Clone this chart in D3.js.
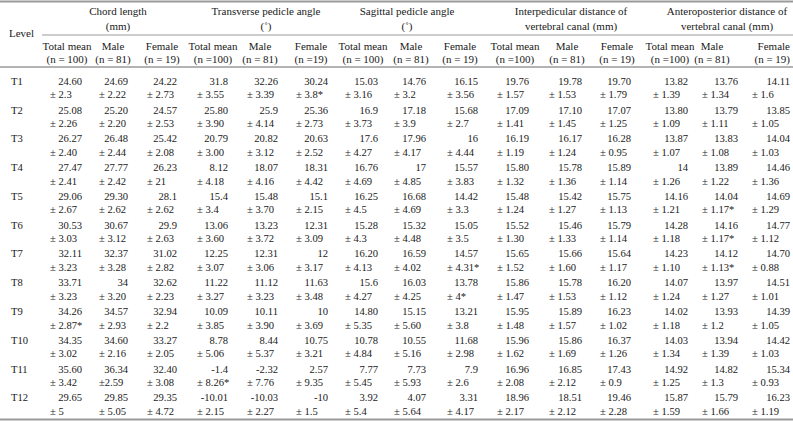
<!DOCTYPE html>
<html><head><meta charset="utf-8">
<script src="https://cdn.jsdelivr.net/npm/d3@7"></script>
<style>
html,body{margin:0;padding:0;background:#fff;}
svg text{font-family:"Liberation Serif","DejaVu Serif",serif;fill:#1a1a1a;}
</style></head>
<body><svg id="c" width="793" height="421"></svg>
<script>
// ---- data ----
const levels = ["T1","T2","T3","T4","T5","T6","T7","T8","T9","T10","T11","T12"];
const groups = [["Chord length","(mm)"],["Transverse pedicle angle","(˚)"],["Sagittal pedicle angle","(˚)"],
  ["Interpedicular distance of","vertebral canal (mm)"],["Anteroposterior distance of","vertebral canal (mm)"]];
const subHeads = [["Total mean","(n = 100)"],["Male","(n = 81)"],["Female","(n = 19)"],
  ["Total mean","(n =100)"],["Male","(n = 81)"],["Female","(n =19)"],
  ["Total mean","(n = 100)"],["Male","(n = 81)"],["Female","(n = 19)"],
  ["Total mean","(n =100)"],["Male","(n = 81)"],["Female","(n = 19)"],
  ["Total mean","(n =100)"],["Male","(n = 81)"],["Female","(n = 19)"]];
// mean values [total, male, female] per level
const chordMean = [["24.60","24.69","24.22"],["25.08","25.20","24.57"],["26.27","26.48","25.42"],["27.47","27.77","26.23"],["29.06","29.30","28.1"],["30.53","30.67","29.9"],["32.11","32.37","31.02"],["33.71","34","32.62"],["34.26","34.57","32.94"],["34.35","34.60","33.27"],["35.60","36.34","32.40"],["29.65","29.85","29.35"]];
const chordSD = [["± 2.3","± 2.22","± 2.73"],["± 2.26","± 2.20","± 2.53"],["± 2.40","± 2.44","± 2.08"],["± 2.41","± 2.42","± 21"],["± 2.67","± 2.62","± 2.62"],["± 3.03","± 3.12","± 2.63"],["± 3.23","± 3.28","± 2.82"],["± 3.23","± 3.20","± 2.23"],["± 2.87*","± 2.93","± 2.2"],["± 3.02","± 2.16","± 2.05"],["± 3.42","±2.59","± 3.08"],["± 5","± 5.05","± 4.72"]];
const transMean = [["31.8","32.26","30.24"],["25.80","25.9","25.36"],["20.79","20.82","20.63"],["8.12","18.07","18.31"],["15.4","15.48","15.1"],["13.06","13.23","12.31"],["12.25","12.31","12"],["11.22","11.12","11.63"],["10.09","10.11","10"],["8.78","8.44","10.75"],["-1.4","-2.32","2.57"],["-10.01","-10.03","-10"]];
const transSD = [["± 3.55","± 3.39","± 3.8*"],["± 3.90","± 4.14","± 2.73"],["± 3.00","± 3.12","± 2.52"],["± 4.18","± 4.16","± 4.42"],["± 3.4","± 3.70","± 2.15"],["± 3.60","± 3.72","± 3.09"],["± 3.07","± 3.06","± 3.17"],["± 3.27","± 3.23","± 3.48"],["± 3.85","± 3.90","± 3.69"],["± 5.06","± 5.37","± 3.21"],["± 8.26*","± 7.76","± 9.35"],["± 2.15","± 2.27","± 1.5"]];
const sagMean = [["15.03","14.76","16.15"],["16.9","17.18","15.68"],["17.6","17.96","16"],["16.76","17","15.57"],["16.25","16.68","14.42"],["15.28","15.32","15.05"],["16.20","16.59","14.57"],["15.6","16.03","13.78"],["14.80","15.15","13.21"],["10.78","10.55","11.68"],["7.77","7.73","7.9"],["3.92","4.07","3.31"]];
const sagSD = [["± 3.16","± 3.2","± 3.56"],["± 3.73","± 3.9","± 2.7"],["± 4.27","± 4.17","± 4.44"],["± 4.69","± 4.85","± 3.83"],["± 4.5","± 4.69","± 3.3"],["± 4.3","± 4.48","± 3.5"],["± 4.13","± 4.02","± 4.31*"],["± 4.27","± 4.25","± 4*"],["± 5.35","± 5.60","± 3.8"],["± 4.84","± 5.16","± 2.98"],["± 5.45","± 5.93","± 2.6"],["± 5.4","± 5.64","± 4.17"]];
const interMean = [["19.76","19.78","19.70"],["17.09","17.10","17.07"],["16.19","16.17","16.28"],["15.80","15.78","15.89"],["15.48","15.42","15.75"],["15.52","15.46","15.79"],["15.65","15.66","15.64"],["15.86","15.78","16.20"],["15.95","15.89","16.23"],["15.96","15.86","16.37"],["16.96","16.85","17.43"],["18.96","18.51","19.46"]];
const interSD = [["± 1.57","± 1.53","± 1.79"],["± 1.41","± 1.45","± 1.25"],["± 1.19","± 1.24","± 0.95"],["± 1.32","± 1.36","± 1.14"],["± 1.24","± 1.27","± 1.13"],["± 1.30","± 1.33","± 1.14"],["± 1.52","± 1.60","± 1.17"],["± 1.47","± 1.53","± 1.12"],["± 1.48","± 1.57","± 1.02"],["± 1.62","± 1.69","± 1.26"],["± 2.08","± 2.12","± 0.9"],["± 2.17","± 2.12","± 2.28"]];
const antMean = [["13.82","13.76","14.11"],["13.80","13.79","13.85"],["13.87","13.83","14.04"],["14","13.89","14.46"],["14.16","14.04","14.69"],["14.28","14.16","14.77"],["14.23","14.12","14.70"],["14.07","13.97","14.51"],["14.02","13.93","14.39"],["14.03","13.94","14.42"],["14.92","14.82","15.34"],["15.87","15.79","16.23"]];
const antSD = [["± 1.39","± 1.34","± 1.6"],["± 1.09","± 1.11","± 1.05"],["± 1.07","± 1.08","± 1.03"],["± 1.26","± 1.22","± 1.36"],["± 1.21","± 1.17*","± 1.29"],["± 1.18","± 1.17*","± 1.12"],["± 1.10","± 1.13*","± 0.88"],["± 1.24","± 1.27","± 1.01"],["± 1.18","± 1.2","± 1.05"],["± 1.34","± 1.39","± 1.03"],["± 1.25","± 1.3","± 0.93"],["± 1.59","± 1.66","± 1.19"]];

// ---- layout ----
const W = 793, H = 421;
const svg = d3.select("#c");
svg.append("rect").attr("width",W).attr("height",H).attr("fill","#fff");

const means = [chordMean, transMean, sagMean, interMean, antMean];
const sds = [chordSD, transSD, sagSD, interSD, antSD];
const cols = d3.range(15);
const xLeft = d3.scaleOrdinal().domain(cols).range([50,99,147,197,247,296,345,394,447,497,549,600,653,702,752]);
const xRight = d3.scaleOrdinal().domain(cols).range([82,128,177,228,278,328,378,426,478,529,582,631,688,738,790]);
const xHead = d3.scaleOrdinal().domain(cols).range([67,113,162,213,260,311,363,411,460,515,567,617,670,712,790]);
const headAnchor = c => c === 14 ? "end" : "middle";
const xGroup = d3.scaleOrdinal().domain(d3.range(5)).range([118,266,407,571,727]);
const y = d3.scalePoint().domain(levels).range([81, 397.7]);
const sdOff = 13.5;

const lineCol = "#9a9a9a";
// rules
svg.append("line").attr("x1",0).attr("x2",W).attr("y1",1.5).attr("y2",1.5).attr("stroke",lineCol).attr("stroke-width",2);
svg.append("line").attr("x1",42).attr("x2",W).attr("y1",35).attr("y2",35).attr("stroke",lineCol).attr("stroke-width",1);
svg.append("line").attr("x1",0).attr("x2",W).attr("y1",67).attr("y2",67).attr("stroke",lineCol).attr("stroke-width",1.5);
svg.append("line").attr("x1",0).attr("x2",W).attr("y1",419.5).attr("y2",419.5).attr("stroke",lineCol).attr("stroke-width",2);

const hfs = 11, dfs = 10.6;
// headers
svg.append("text").attr("x",9).attr("y",33).attr("dy","0.35em").attr("font-size",hfs).text("Level");
const g = svg.append("g");
groups.forEach((t,i)=>{
  g.append("text").attr("x",xGroup(i)).attr("y",11).attr("dy","0.35em").attr("text-anchor","middle").attr("font-size",hfs).text(t[0]);
  g.append("text").attr("x",xGroup(i)).attr("y",26).attr("dy","0.35em").attr("text-anchor","middle").attr("font-size",hfs).text(t[1]);
});
subHeads.forEach((t,i)=>{
  g.append("text").attr("x",xHead(i)).attr("y",46).attr("dy","0.35em").attr("text-anchor",headAnchor(i)).attr("font-size",hfs).text(t[0]);
  g.append("text").attr("x",xHead(i)).attr("y",59).attr("dy","0.35em").attr("text-anchor",headAnchor(i)).attr("font-size",hfs).text(t[1]);
});

// body
const body = svg.append("g");
levels.forEach((lv,r)=>{
  body.append("text").attr("x",11).attr("y",y(lv)).attr("dy","0.35em").attr("font-size",dfs).text(lv);
  means.forEach((m,gi)=>{
    m[r].forEach((v,k)=>{
      const c = gi*3+k;
      body.append("text").attr("x",xRight(c)).attr("y",y(lv)).attr("dy","0.35em").attr("text-anchor","end").attr("font-size",dfs).text(v);
      body.append("text").attr("x",xLeft(c)).attr("y",y(lv)+sdOff).attr("dy","0.35em").attr("text-anchor","start").attr("font-size",dfs).text(sds[gi][r][k]);
    });
  });
});
</script></body></html>
